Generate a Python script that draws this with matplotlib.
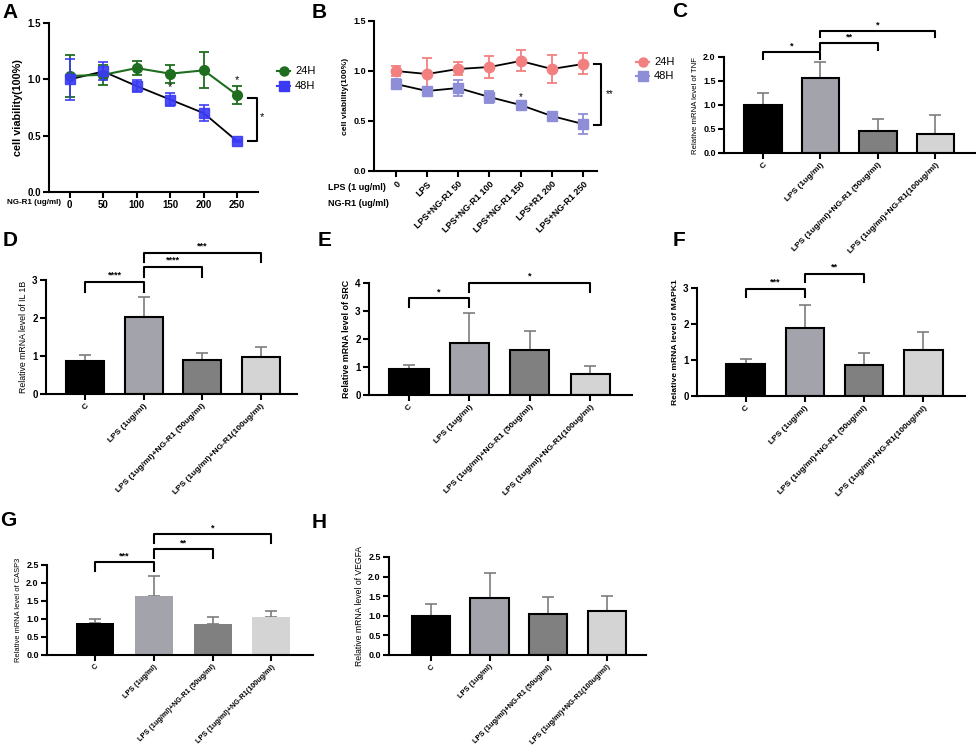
import matplotlib
matplotlib.use("Agg")
import matplotlib.pyplot as plt
from matplotlib.lines import Line2D
import numpy as np

plt.rcParams['font.family'] = ['Liberation Sans', 'DejaVu Sans']

# ---------------- data ----------------
a_dose = [0, 50, 100, 150, 200, 250]
a_24h = [1.03, 1.04, 1.10, 1.05, 1.08, 0.86]
a_24h_err = [0.19, 0.09, 0.06, 0.08, 0.16, 0.08]
a_48h = [1.00, 1.07, 0.94, 0.82, 0.70, 0.45]
a_48h_err = [0.18, 0.08, 0.05, 0.06, 0.07, 0.01]

b_labels = ["0", "LPS", "LPS+NG-R1 50", "LPS+NG-R1 100", "LPS+NG-R1 150",
            "LPS+R1 200", "LPS+NG-R1 250"]
b_24h = [1.00, 0.97, 1.02, 1.04, 1.10, 1.02, 1.07]
b_24h_err = [0.05, 0.16, 0.065, 0.11, 0.105, 0.14, 0.105]
b_48h = [0.87, 0.80, 0.83, 0.74, 0.66, 0.55, 0.47]
b_48h_err = [0.05, 0.02, 0.08, 0.06, 0.02, 0.04, 0.10]

groups = ["C", "LPS (1ug/ml)", "LPS (1ug/ml)+NG-R1 (50ug/ml)",
          "LPS (1ug/ml)+NG-R1(100ug/ml)"]
tnf = [1.01, 1.57, 0.46, 0.40]
tnf_err = [0.23, 0.32, 0.24, 0.39]
il1b = [0.86, 2.03, 0.89, 0.97]
il1b_err = [0.16, 0.51, 0.18, 0.26]
src = [0.92, 1.87, 1.61, 0.75]
src_err = [0.14, 1.06, 0.69, 0.30]
mapk1 = [0.89, 1.89, 0.87, 1.28]
mapk1_err = [0.13, 0.64, 0.33, 0.51]
casp3 = [0.90, 1.63, 0.85, 1.06]
casp3_err = [0.10, 0.56, 0.20, 0.16]
vegfa = [1.00, 1.46, 1.05, 1.12]
vegfa_err = [0.29, 0.63, 0.43, 0.39]

# significance annotations: (bar i, bar j, label)
tnf_sig = [(0, 1, '*'), (1, 2, '**'), (1, 3, '*')]
il1b_sig = [(0, 1, '****'), (1, 2, '****'), (1, 3, '***')]
src_sig = [(0, 1, '*'), (1, 3, '*')]
mapk1_sig = [(0, 1, '***'), (1, 2, '**')]
casp3_sig = [(0, 1, '***'), (1, 2, '**'), (1, 3, '*')]

# ---------------- figure ----------------
W, H = 976, 747
fig = plt.figure(figsize=(W / 100, H / 100), dpi=100)


def add_ax(l, t, r, b):
    return fig.add_axes([l / W, 1 - b / H, (r - l) / W, (b - t) / H])


def style(ax, ylim, yticks, fmt, ysize=6.5):
    for s in ['top', 'right']:
        ax.spines[s].set_visible(False)
    for s in ['left', 'bottom']:
        ax.spines[s].set_linewidth(1.5)
    ax.tick_params(axis='both', direction='out', length=4, width=1.5, pad=2)
    ax.set_ylim(*ylim)
    ax.set_yticks(yticks)
    ax.set_yticklabels([fmt % v for v in yticks], fontsize=ysize, fontweight='bold')


def ftxt(x, y, s, **kw):
    fig.text(x / W, 1 - y / H, s, **kw)


def legend_item(x0, x1, y, color, marker, label, lcolor=None):
    yy = 1 - y / H
    fig.add_artist(Line2D([x0 / W, (x0 + x1) / 2 / W, x1 / W], [yy, yy, yy],
                          color=lcolor or color, lw=1.5, marker=marker,
                          markevery=[1], ms=6.5, mfc=color, mec=color))
    ftxt(x1 + 5, y, label, fontsize=8, va='center')


# ---------------- panel A ----------------
green = '#1f6e1f'
blue = '#3a3af5'
axA = add_ax(49, 23, 258, 192)
axA.errorbar(a_dose, a_24h, yerr=a_24h_err, color=green, lw=1.5, marker='o',
             ms=7, ecolor=green, elinewidth=1.3, capsize=3.5, capthick=1.3,
             clip_on=False, zorder=3)
axA.plot(a_dose, a_48h, color='black', lw=1.3, zorder=2)
axA.errorbar(a_dose, a_48h, yerr=a_48h_err, fmt='s', color=blue, ms=7,
             ecolor=blue, elinewidth=1.3, capsize=3.5, capthick=1.3,
             clip_on=False, zorder=4, alpha=0.9)
axA.set_xlim(-31, 281)
axA.set_xticks(a_dose)
axA.set_xticklabels([str(d) for d in a_dose], fontsize=7, fontweight='bold')
style(axA, (0, 1.5), [0, 0.5, 1.0, 1.5], '%.1f', ysize=7)
axA.set_ylabel('cell viability(100%)', fontsize=7.8, fontweight='bold', labelpad=3)
axA.text(150, a_48h[3] + a_48h_err[3] + 0.01, '*', ha='center', va='bottom', fontsize=8)
axA.text(250, a_24h[5] + a_24h_err[5] + 0.01, '*', ha='center', va='bottom', fontsize=8)
axA.plot([266, 280, 280, 266], [a_24h[5] - 0.025, a_24h[5] - 0.025, a_48h[5], a_48h[5]],
         color='black', lw=1.5, clip_on=False)
axA.text(287, (a_24h[5] + a_48h[5]) / 2 + 0.01, '*', ha='center', va='center', fontsize=8)
ftxt(7, 202, 'NG-R1 (ug/ml)', fontsize=5.8, fontweight='bold', va='center')
legend_item(277, 290, 71, green, 'o', '24H')
legend_item(277, 290, 86, blue, 's', '48H')

# ---------------- panel B ----------------
pink = '#f38080'
lav = '#8d8dd8'
bx = np.arange(len(b_labels))
axB = add_ax(374, 21, 597, 171)
axB.plot(bx, b_24h, color='black', lw=1.3, zorder=2)
axB.plot(bx, b_48h, color='black', lw=1.3, zorder=2)
axB.errorbar(bx, b_24h, yerr=b_24h_err, fmt='o', color=pink, ms=7.5,
             ecolor=pink, elinewidth=1.3, capsize=3.5, capthick=1.3, zorder=3)
axB.errorbar(bx, b_48h, yerr=b_48h_err, fmt='s', color=lav, ms=7.5,
             ecolor=lav, elinewidth=1.3, capsize=3.5, capthick=1.3, zorder=3)
axB.set_xlim(-0.7, 6.45)
axB.set_xticks(bx)
axB.set_xticklabels(b_labels, fontsize=6.5, fontweight='bold', rotation=45,
                    ha='right', rotation_mode='anchor')
style(axB, (0, 1.5), [0, 0.5, 1.0, 1.5], '%.1f', ysize=6.5)
axB.set_ylabel('cell viability(100%)', fontsize=6.1, fontweight='bold', labelpad=3)
axB.text(4, b_48h[4] + b_48h_err[4] + 0.01, '*', ha='center', va='bottom', fontsize=7)
axB.plot([6.35, 6.57, 6.57, 6.35], [b_24h[6], b_24h[6], b_48h[6] - 0.01, b_48h[6] - 0.01],
         color='black', lw=1.5, clip_on=False)
axB.text(6.86, (b_24h[6] + b_48h[6]) / 2, '**', ha='center', va='center', fontsize=7)
ftxt(328, 187, 'LPS (1 ug/ml)', fontsize=6.5, fontweight='bold', va='center')
ftxt(328, 203, 'NG-R1 (ug/ml)', fontsize=6.5, fontweight='bold', va='center')
legend_item(636, 649, 62, pink, 'o', '24H', lcolor=pink)
legend_item(636, 649, 76, lav, 's', '48H', lcolor=lav)

# ---------------- bar panels ----------------
bar_colors = ['#000000', '#a3a3ab', '#808080', '#d4d4d4']


def bar_panel(box, xlim, ymax, ystep, fmt, values, errs, ylabel, ylsize,
              ylweight, sig, levels, edge=True, ysize=6.5, xsize=6):
    ax = add_ax(*box)
    x = np.arange(len(groups))
    ax.bar(x, values, width=0.65, color=bar_colors,
           edgecolor='black' if edge else 'none', linewidth=1.5, zorder=2)
    ax.errorbar(x, values, yerr=[np.zeros(len(values)), errs], fmt='none',
                ecolor='#7d7d7d', elinewidth=1.2, capsize=4, capthick=1.2, zorder=1)
    ax.set_xlim(*xlim)
    ax.set_xticks(x)
    ax.set_xticklabels(groups, fontsize=xsize, fontweight='bold', rotation=45,
                       ha='right', rotation_mode='anchor')
    yt = list(np.arange(0, ymax + 1e-9, ystep))
    style(ax, (0, ymax), yt, fmt, ysize=ysize)
    ax.set_ylabel(ylabel, fontsize=ylsize, fontweight=ylweight, labelpad=3)
    for (i, j, lab), (ytop, yleg) in zip(sig, levels):
        ax.plot([i, i, j, j], [yleg, ytop, ytop, yleg], color='black', lw=1.5,
                clip_on=False)
        ax.text((i + j) / 2, ytop + 0.02 * ymax, lab, ha='center', va='bottom',
                fontsize=6.5, fontweight='bold')
    return ax


bar_panel((724, 57, 975, 153), (-0.68, 3.69), 2.0, 0.5, '%.1f', tnf, tnf_err,
          'Relative mRNA level of TNF', 5.6, 'normal', tnf_sig,
          [(2.10, 1.96), (2.29, 2.15), (2.54, 2.42)])
bar_panel((46, 280, 297, 394), (-0.67, 3.62), 3, 1, '%d', il1b, il1b_err,
          'Relative mRNA level of IL 1B', 6.3, 'normal', il1b_sig,
          [(2.95, 2.69), (3.34, 3.09), (3.72, 3.48)], ysize=7)
bar_panel((369, 283, 632, 395), (-0.66, 3.69), 4, 1, '%d', src, src_err,
          'Relative mRNA level of SRC', 6.4, 'bold', src_sig,
          [(3.45, 3.14), (3.99, 3.67)], ysize=7)
bar_panel((697, 288, 965, 396), (-0.82, 3.70), 3, 1, '%d', mapk1, mapk1_err,
          'Relative mRNA level of MAPK1', 6.1, 'bold', mapk1_sig,
          [(2.97, 2.75), (3.40, 3.17)], ysize=7)
bar_panel((47, 565, 313, 655), (-0.82, 3.71), 2.5, 0.5, '%.1f', casp3, casp3_err,
          'Relative mRNA level of CASP3', 5.4, 'normal', casp3_sig,
          [(2.58, 2.34), (2.94, 2.69), (3.36, 3.11)], edge=False, xsize=5.2)
bar_panel((389, 557, 646, 655), (-0.71, 3.66), 2.5, 0.5, '%.1f', vegfa, vegfa_err,
          'Relative mRNA level of VEGFA', 6.2, 'normal', [], [], xsize=5.3)

# ---------------- panel letters ----------------
for lab, x, y in [('A', 2, 3), ('B', 312, 3), ('C', 672, 2), ('D', 3, 231),
                  ('E', 318, 231), ('F', 673, 231), ('G', 0, 511), ('H', 312, 513)]:
    ftxt(x, y, lab, fontsize=15, fontweight='bold', va='top', ha='left')

fig.savefig('out.png', dpi=100)
